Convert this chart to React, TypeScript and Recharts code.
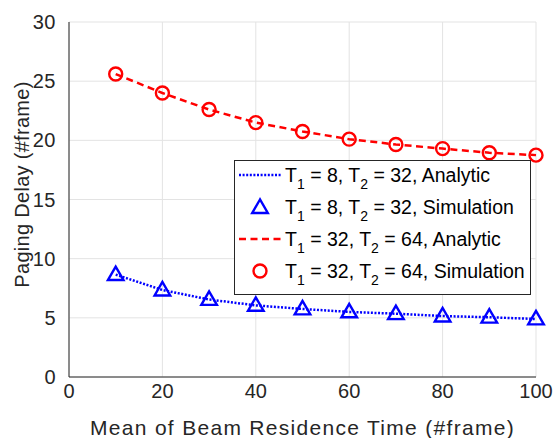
import React from "react";
import { ComposedChart, Line, XAxis, YAxis, CartesianGrid } from "recharts";

const beamResidence = [10, 20, 30, 40, 50, 60, 70, 80, 90, 100];
const analytic8_32 = [8.65, 7.35, 6.55, 6.05, 5.75, 5.5, 5.35, 5.15, 5.05, 4.9];
const simulation8_32 = [8.65, 7.35, 6.55, 6.05, 5.75, 5.5, 5.35, 5.15, 5.05, 4.9];
const analytic32_64 = [25.6, 24.0, 22.6, 21.5, 20.75, 20.1, 19.65, 19.3, 18.95, 18.75];
const simulation32_64 = [25.6, 24.0, 22.6, 21.5, 20.75, 20.1, 19.65, 19.3, 18.95, 18.75];
const xTicks = [0, 20, 40, 60, 80, 100];
const yTicks = [0, 5, 10, 15, 20, 25, 30];

const data = beamResidence.map((x, i) => ({
  x,
  a1: analytic8_32[i],
  s1: simulation8_32[i],
  a2: analytic32_64[i],
  s2: simulation32_64[i],
}));

const FONT = "'Liberation Sans', Arial, Helvetica, sans-serif";
const TEXT = "#262626";
const BLUE = "#0000ff";
const RED = "#ff0000";

const Triangle = (props: any) => {
  const { cx, cy, index } = props;
  if (cx == null || cy == null) return <g key={index} />;
  const w = 7.8;
  const h = 13.5;
  return (
    <polygon
      key={index}
      points={`${cx},${cy - h * 0.6} ${cx - w},${cy + h * 0.4} ${cx + w},${cy + h * 0.4}`}
      fill="none"
      stroke={BLUE}
      strokeWidth={2.4}
      strokeLinejoin="miter"
    />
  );
};

const Circle = (props: any) => {
  const { cx, cy, index } = props;
  if (cx == null || cy == null) return <g key={index} />;
  return <circle key={index} cx={cx} cy={cy} r={6.5} fill="none" stroke={RED} strokeWidth={2.4} />;
};

const YLabel = (props: any) => {
  const vb = props.viewBox || {};
  const cy = (vb.y ?? 22) + (vb.height ?? 355) / 2 - 15;
  const cx = 22;
  return (
    <text
      x={cx}
      y={cy}
      transform={`rotate(-90, ${cx}, ${cy})`}
      textAnchor="middle"
      dominantBaseline="central"
      fill={TEXT}
      fontSize={20}
      fontFamily={FONT}
      letterSpacing={0.3}
    >
      Paging Delay (#frame)
    </text>
  );
};

const subStyle: React.CSSProperties = { fontSize: 14, verticalAlign: -7, lineHeight: 0 };

const Label = ({ a, b, kind }: { a: string; b: string; kind: string }) => (
  <span>
    T<sub style={subStyle}>1</sub> = {a}, T<sub style={subStyle}>2</sub> = {b}, {kind}
  </span>
);

const LegendBox = () => {
  const rows = [
    {
      sym: (
        <svg width={46} height={20}>
          <line x1={2} y1={10} x2={44} y2={10} stroke={BLUE} strokeWidth={2.5} strokeDasharray="2 1.6" />
        </svg>
      ),
      label: <Label a="8" b="32" kind="Analytic" />,
    },
    {
      sym: (
        <svg width={46} height={20}>
          <polygon points="23,2.5 15.2,16 30.8,16" fill="none" stroke={BLUE} strokeWidth={2.4} />
        </svg>
      ),
      label: <Label a="8" b="32" kind="Simulation" />,
    },
    {
      sym: (
        <svg width={46} height={20}>
          <line x1={2} y1={10} x2={44} y2={10} stroke={RED} strokeWidth={2.5} strokeDasharray="7 4.5" />
        </svg>
      ),
      label: <Label a="32" b="64" kind="Analytic" />,
    },
    {
      sym: (
        <svg width={46} height={20}>
          <circle cx={23} cy={10} r={6.5} fill="none" stroke={RED} strokeWidth={2.4} />
        </svg>
      ),
      label: <Label a="32" b="64" kind="Simulation" />,
    },
  ];
  return (
    <div
      style={{
        position: "absolute",
        left: 234,
        top: 160,
        width: 297,
        height: 135,
        border: "1px solid #262626",
        background: "#ffffff",
        boxSizing: "border-box",
        fontFamily: FONT,
        fontSize: 19.5,
        color: "#000",
        paddingTop: 0,
        overflow: "hidden",
      }}
    >
      {rows.map((r, i) => (
        <div key={i} style={{ display: "flex", alignItems: "center", height: 32, lineHeight: "22px", whiteSpace: "nowrap" }}>
          <div style={{ width: 50, flex: "0 0 50px", display: "flex", justifyContent: "center", marginTop: -4 }}>{r.sym}</div>
          <div style={{ marginTop: -4 }}>{r.label}</div>
        </div>
      ))}
    </div>
  );
};

export default function App() {
  return (
    <div style={{ position: "absolute", left: 0, top: 0, width: 555, height: 438, background: "#fff" }}>
      <ComposedChart
        width={555}
        height={438}
        data={data}
        margin={{ top: 22, right: 19, bottom: 0, left: 39 }}
      >
        <CartesianGrid stroke="#e3e3e3" strokeWidth={1} />
        <XAxis
          dataKey="x"
          type="number"
          domain={[0, 100]}
          ticks={xTicks}
          tickLine={false}
          axisLine={{ stroke: TEXT }}
          height={61}
          tick={{ fill: TEXT, fontSize: 20, fontFamily: FONT }}
          tickMargin={1}
          label={{
            value: "Mean of Beam Residence Time (#frame)",
            position: "insideBottom",
            offset: 3,
            fill: TEXT,
            fontSize: 21,
            fontFamily: FONT,
            letterSpacing: 1.3,
          }}
        />
        <XAxis
          xAxisId="top"
          dataKey="x"
          type="number"
          orientation="top"
          domain={[0, 100]}
          ticks={xTicks}
          tick={false}
          tickLine={false}
          axisLine={{ stroke: TEXT }}
          height={0}
        />
        <YAxis
          type="number"
          domain={[0, 30]}
          ticks={yTicks}
          tickLine={false}
          axisLine={{ stroke: TEXT }}
          width={30}
          tick={{ fill: TEXT, fontSize: 20, fontFamily: FONT, letterSpacing: 0.5 }}
          tickMargin={7}
          label={<YLabel />}
        />
        <YAxis
          yAxisId="right"
          orientation="right"
          type="number"
          domain={[0, 30]}
          ticks={yTicks}
          tick={false}
          tickLine={false}
          axisLine={{ stroke: TEXT }}
          width={0}
        />
        <Line
          dataKey="a1"
          stroke={BLUE}
          strokeWidth={2.5}
          strokeDasharray="2 1.6"
          dot={false}
          activeDot={false}
          isAnimationActive={false}
        />
        <Line dataKey="s1" stroke="none" dot={Triangle} activeDot={false} isAnimationActive={false} />
        <Line
          dataKey="a2"
          stroke={RED}
          strokeWidth={2.5}
          strokeDasharray="7 4.5"
          dot={false}
          activeDot={false}
          isAnimationActive={false}
        />
        <Line dataKey="s2" stroke="none" dot={Circle} activeDot={false} isAnimationActive={false} />
      </ComposedChart>
      <LegendBox />
    </div>
  );
}
